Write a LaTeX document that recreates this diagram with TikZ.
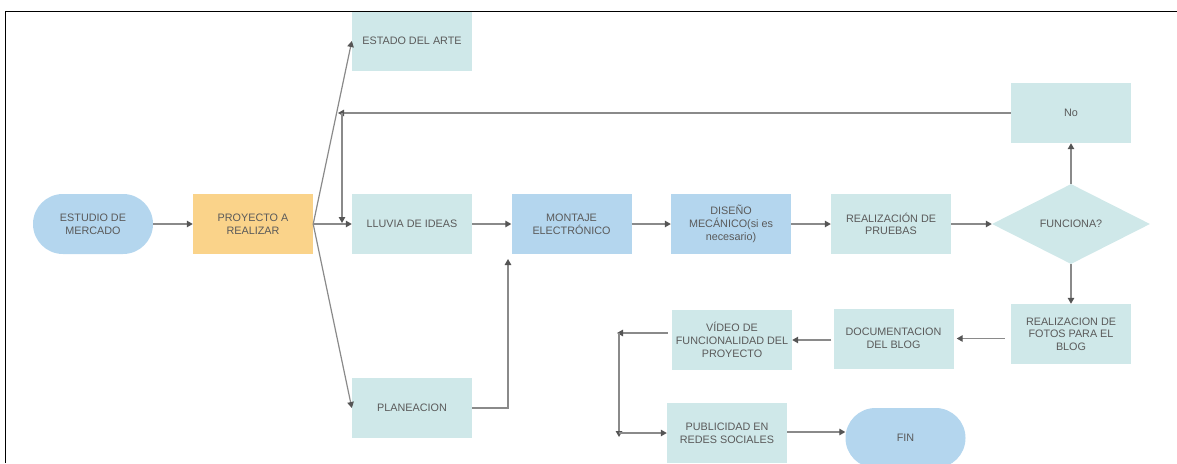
\documentclass[tikz,border=0pt]{standalone}
\usepackage{fontspec}
\setmainfont{Liberation Sans}
\usetikzlibrary{arrows.meta,shapes.geometric}
\definecolor{teal1}{HTML}{CFE8E9}
\definecolor{blue1}{HTML}{B4D6EE}
\definecolor{orange1}{HTML}{FAD38A}
\definecolor{txt}{HTML}{5A5A5A}
\definecolor{linec}{HTML}{8A8A8A}
\definecolor{tipc}{HTML}{555555}
\tikzset{
  base/.style={minimum width=120pt, minimum height=60pt, inner sep=0pt, align=center,
    text=txt, font=\fontsize{10.8}{12.7}\selectfont},
  tbox/.style={base, fill=teal1},
  bbox/.style={base, fill=blue1},
  obox/.style={base, fill=orange1},
  term/.style={base, fill=blue1, rounded corners=29.9pt},
  dia/.style={base, diamond, fill=teal1, minimum width=158pt, minimum height=80pt},
  arr/.style={draw=linec, line width=1.2pt, -{Triangle[length=6pt,width=6.5pt,color=tipc]}},
  ln/.style={draw=linec, line width=1.2pt},
}
\begin{document}
\begin{tikzpicture}[x=1pt,y=-1pt]
\useasboundingbox (0,0) rectangle (1177,463);
% nodes
\node[term] (estudio) at (93,224) {ESTUDIO DE\\MERCADO};
\node[obox] (proyecto) at (253,224) {PROYECTO A\\REALIZAR};
\node[tbox] (arte) at (412,41) {ESTADO DEL ARTE};
\node[tbox] (lluvia) at (412,224) {LLUVIA DE IDEAS};
\node[tbox] (plan) at (412,408) {PLANEACION};
\node[bbox] (montaje) at (571.5,224) {MONTAJE\\ELECTRÓNICO};
\node[bbox] (diseno) at (731,224) {DISEÑO\\MECÁNICO(si es\\necesario)};
\node[tbox] (pruebas) at (891,224) {REALIZACIÓN DE\\PRUEBAS};
\node[dia] (func) at (1071,224) {FUNCIONA?};
\node[tbox] (no) at (1071,113) {No};
\node[tbox] (fotos) at (1071,334) {REALIZACION DE\\FOTOS PARA EL\\BLOG};
\node[tbox] (doc) at (893.5,338.5) {DOCUMENTACION\\DEL BLOG};
\node[tbox] (video) at (732,340) {VÍDEO DE\\FUNCIONALIDAD DEL\\PROYECTO};
\node[tbox] (pub) at (727,433) {PUBLICIDAD EN\\REDES SOCIALES};
\node[term] (fin) at (905.5,438) {FIN};
% coordinates
\coordinate (j1) at (338,113);
\coordinate (j2) at (342,113);
\coordinate (j3) at (342,223);
\coordinate (m1) at (508,259);
\coordinate (k1) at (617,333);
\coordinate (k2) at (619,333);
\coordinate (k3) at (619,437);
% connectors
\draw[arr] (estudio) -- (proyecto);
\draw[arr] (proyecto.east) -- (lluvia.west);
\draw[arr] (proyecto.east) -- (arte.west);
\draw[arr] (proyecto.east) -- (plan.west);
\draw[arr] (no.west) -- (j1);
\draw[arr] (j2) -- (j3);
\draw[arr] (lluvia) -- (montaje);
\draw[arr] (montaje) -- (diseno);
\draw[arr] (diseno) -- (pruebas);
\draw[arr] (pruebas) -- (func);
\draw[arr] (func.north) -- (no.south);
\draw[arr] (func.south) -- (fotos.north);
\draw[arr, shorten <=6pt, shorten >=3pt] (fotos.west |- doc.east) -- (doc.east);
\draw[arr, shorten <=2pt] (doc.west |- video.east) -- (video.east);
\draw[arr, shorten <=4pt] (video.west |- k1) -- (k1);
\draw[arr] (k2) -- (k3);
\draw[arr] (k2 |- pub.west) -- (pub.west);
\draw[arr] (pub.east |- 0,432) -- (fin.west |- 0,432);
\draw[arr] (plan.east) -| (m1);
% frame
\draw[black, line width=1pt] (5.5,463) -- (5.5,11.5) -- (1177,11.5);
\end{tikzpicture}
\end{document}
